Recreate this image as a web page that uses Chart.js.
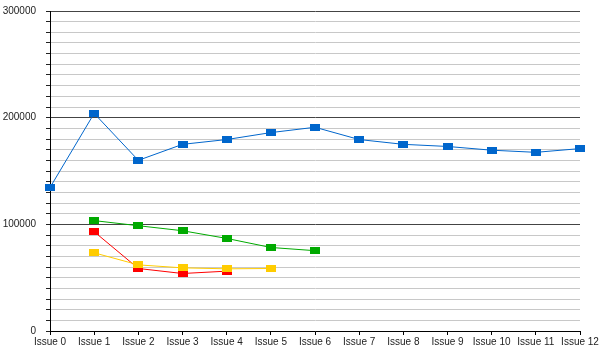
<!DOCTYPE html>
<html>
<head>
<meta charset="utf-8">
<script src="https://cdn.jsdelivr.net/npm/chart.js@4/dist/chart.umd.min.js"></script>
<style>
  html, body { margin: 0; padding: 0; background: #fff; }
  #wrap { width: 600px; height: 350px; }
</style>
</head>
<body>
<div id="wrap"><canvas id="chart" width="600" height="350"></canvas></div>
<script>
// Data
const issues = ["Issue 0", "Issue 1", "Issue 2", "Issue 3", "Issue 4", "Issue 5", "Issue 6",
  "Issue 7", "Issue 8", "Issue 9", "Issue 10", "Issue 11", "Issue 12"];
const blueValues = [134500, 204000, 160000, 175000, 179500, 186000, 191000, 179500, 175000, 173000, 169500, 167500, 171000];
const greenValues = [null, 103500, 98700, 94000, 86800, 78300, 75300];
const redValues = [null, 93100, 58600, 53900, 56100];
const yellowValues = [null, 73300, 62000, 59200, 58300, 58600];

const yMax = 300000;
const minorStep = 10000;
const majorStep = 100000;

// small rectangle markers
function rectMarker(color) {
  const c = document.createElement("canvas");
  c.width = 10;
  c.height = 7;
  const ctx = c.getContext("2d");
  ctx.fillStyle = color;
  ctx.fillRect(0, 0, 10, 7);
  return c;
}

function series(values, color) {
  return {
    data: values,
    borderColor: color,
    backgroundColor: color,
    borderWidth: 1,
    pointStyle: rectMarker(color),
    pointRadius: 5,
    pointHoverRadius: 5,
    tension: 0,
    spanGaps: false
  };
}

const font = { family: "'Liberation Sans', Arial, sans-serif", size: 10 };

// first dataset in list is drawn on top
new Chart(document.getElementById("chart"), {
  type: "line",
  data: {
    labels: issues,
    datasets: [
      series(yellowValues, "#ffcc00"),
      series(redValues, "#ff0000"),
      series(greenValues, "#00aa00"),
      series(blueValues, "#0066cc")
    ]
  },
  options: {
    responsive: false,
    animation: false,
    layout: { padding: { top: 11, right: 20, left: 0, bottom: 0 } },
    plugins: { legend: { display: false }, tooltip: { enabled: false } },
    scales: {
      x: {
        offset: false,
        afterFit: (s) => { s.height = 19; },
        border: { color: "#000", width: 1 },
        grid: { drawOnChartArea: false, drawTicks: true, tickLength: 4, color: "#000" },
        ticks: { font: font, color: "#222", padding: 1, maxRotation: 0, autoSkip: false }
      },
      y: {
        min: 0,
        max: yMax,
        afterFit: (s) => { s.width = 50; s.paddingTop = 0; s.paddingBottom = 0; },
        border: { color: "#000", width: 1 },
        grid: {
          tickLength: 4,
          color: (ctx) => (ctx.tick && ctx.tick.value % majorStep === 0) ? "#444" : "#c8c8c8",
          tickColor: "#222"
        },
        ticks: {
          stepSize: minorStep,
          autoSkip: false,
          font: font,
          color: "#222",
          padding: 10,
          callback: (v) => (v % majorStep === 0 ? String(v) : "")
        }
      }
    }
  }
});
</script>
</body>
</html>
